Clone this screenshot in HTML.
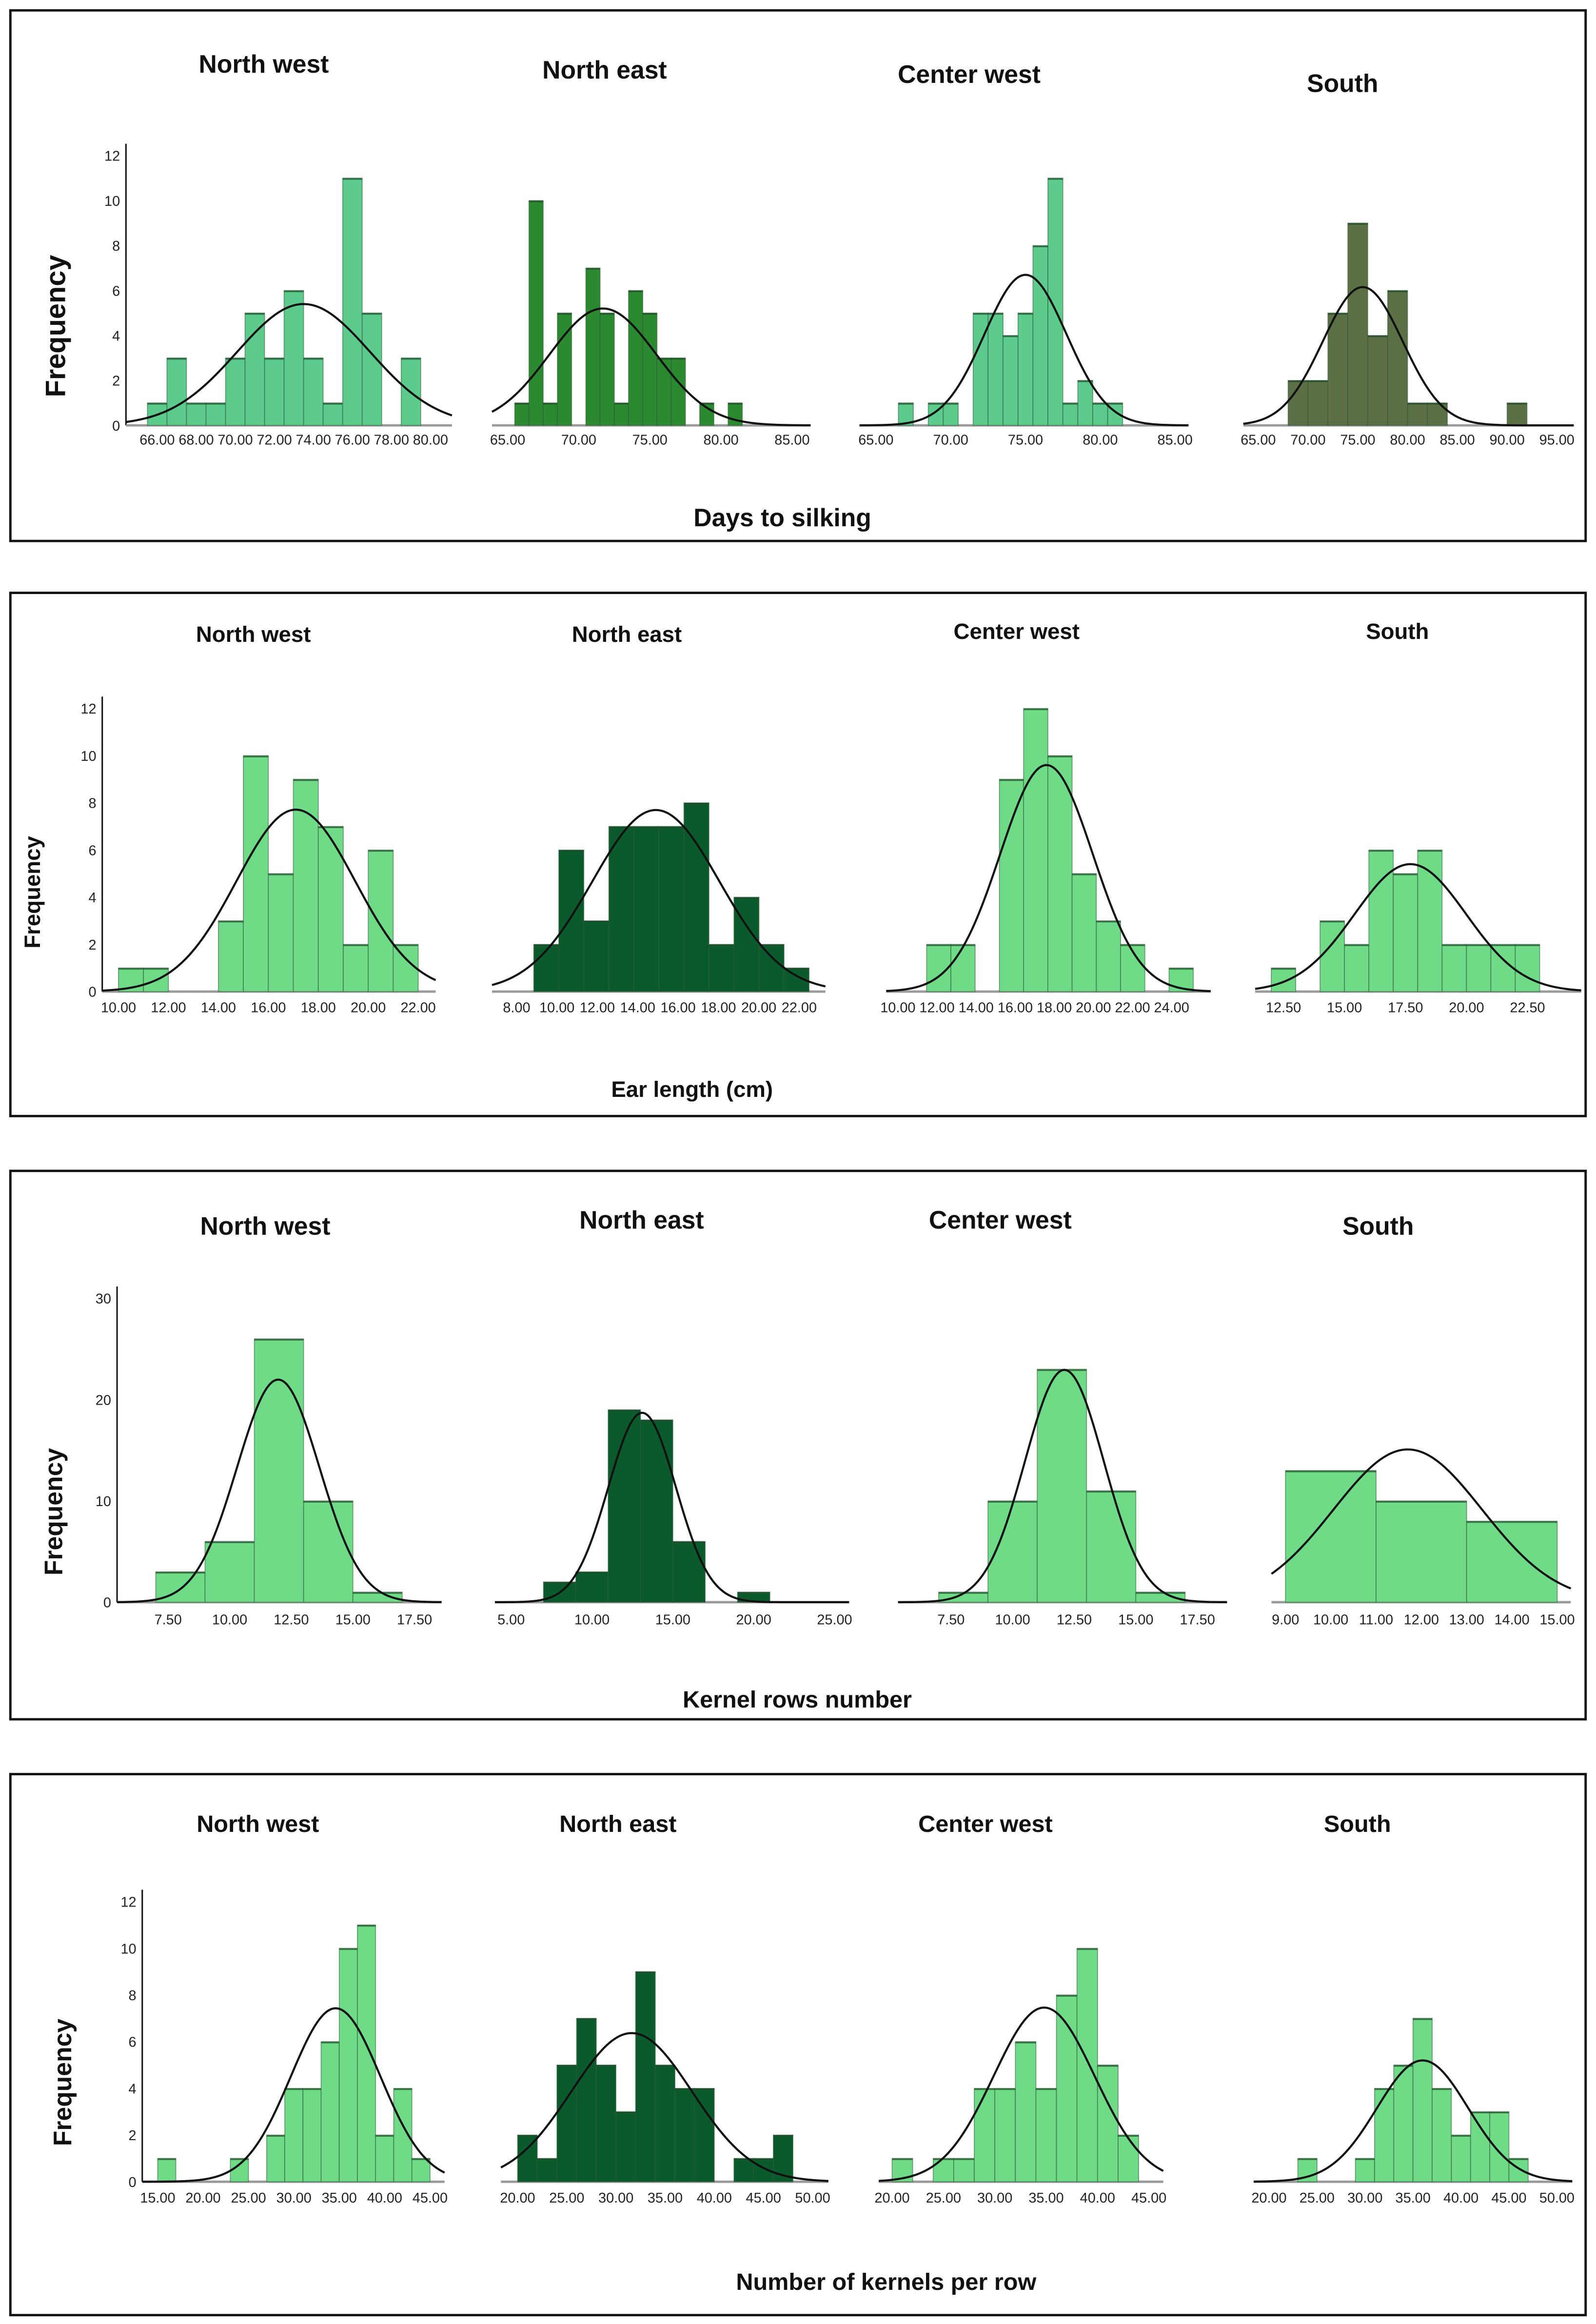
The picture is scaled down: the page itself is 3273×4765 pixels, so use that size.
<!DOCTYPE html>
<html><head><meta charset="utf-8">
<style>
html,body{margin:0;padding:0;background:#fff;}
svg{display:block;}
.t{font-family:"Liberation Sans",Arial,sans-serif;font-weight:bold;fill:#111;}
.tk{font-family:"Liberation Sans Narrow","Liberation Sans",sans-serif;fill:#222;font-size:9.5px;}
</style></head>
<body>
<svg id="fig" width="3273" height="4765" viewBox="0 0 1077 1568" preserveAspectRatio="none" xmlns="http://www.w3.org/2000/svg">
<rect x="0" y="0" width="1077" height="1568" fill="#fff"/>
<rect x="7" y="7" width="1063" height="358" fill="none" stroke="#111" stroke-width="1.6"/>
<rect x="7" y="400" width="1063" height="353" fill="none" stroke="#111" stroke-width="1.6"/>
<rect x="7" y="790" width="1063" height="370" fill="none" stroke="#111" stroke-width="1.6"/>
<rect x="7" y="1197" width="1063" height="365" fill="none" stroke="#111" stroke-width="1.6"/>

<text class="t" x="178" y="49" font-size="17" text-anchor="middle">North west</text>
<text class="t" x="408" y="53" font-size="17" text-anchor="middle">North east</text>
<text class="t" x="654" y="56" font-size="17" text-anchor="middle">Center west</text>
<text class="t" x="906" y="62" font-size="17" text-anchor="middle">South</text>
<text class="t" x="528" y="355" font-size="17" text-anchor="middle">Days to silking</text>
<text class="t" transform="translate(44,220) rotate(-90)" font-size="19" text-anchor="middle">Frequency</text>

<text class="t" x="171" y="433" font-size="15" text-anchor="middle">North west</text>
<text class="t" x="423" y="433" font-size="15" text-anchor="middle">North east</text>
<text class="t" x="686" y="431" font-size="15" text-anchor="middle">Center west</text>
<text class="t" x="943" y="431" font-size="15" text-anchor="middle">South</text>
<text class="t" x="467" y="740" font-size="15" text-anchor="middle">Ear length (cm)</text>
<text class="t" transform="translate(27,602) rotate(-90)" font-size="15" text-anchor="middle">Frequency</text>

<text class="t" x="179" y="833" font-size="17" text-anchor="middle">North west</text>
<text class="t" x="433" y="829" font-size="17" text-anchor="middle">North east</text>
<text class="t" x="675" y="829" font-size="17" text-anchor="middle">Center west</text>
<text class="t" x="930" y="833" font-size="17" text-anchor="middle">South</text>
<text class="t" x="538" y="1152" font-size="16" text-anchor="middle">Kernel rows number</text>
<text class="t" transform="translate(42,1020) rotate(-90)" font-size="17" text-anchor="middle">Frequency</text>

<text class="t" x="174" y="1236" font-size="16" text-anchor="middle">North west</text>
<text class="t" x="417" y="1236" font-size="16" text-anchor="middle">North east</text>
<text class="t" x="665" y="1236" font-size="16" text-anchor="middle">Center west</text>
<text class="t" x="916" y="1236" font-size="16" text-anchor="middle">South</text>
<text class="t" x="598" y="1545" font-size="16" text-anchor="middle">Number of kernels per row</text>
<text class="t" transform="translate(48,1405) rotate(-90)" font-size="17" text-anchor="middle">Frequency</text>
</svg>
<script>
// ---- Days to silking ----
const daysCounts = [
  [1,3,1,1,3,5,3,6,3,1,11,5,0,3],
  [1,10,1,5,0,7,5,1,6,5,3,3,0,1,0,1],
  [1,0,1,1,0,5,5,4,5,8,11,1,2,1,1],
  [2,2,5,9,4,6,1,1,0,0,0,1]
];
const daysBinStart = [65.5,65.5,66.5,68];
const daysBinWidth = [1,1,1,2];
const daysMean = [73.5,71.7,75.0,75.5];
const daysSD = [3.4,3.76,2.74,4.02];
const daysDomain = [[64.4,81.1],[63.9,86.3],[63.9,85.9],[63.5,96.7]];
const daysXTicks = [[66,68,70,72,74,76,78,80],[65,70,75,80,85],[65,70,75,80,85],[65,70,75,80,85,90,95]];
const daysYTicks = [0,2,4,6,8,10,12];

// ---- Ear length ----
const earCounts = [
  [1,1,0,0,3,10,5,9,7,2,6,2],
  [2,6,3,7,7,7,8,2,4,2,1],
  [2,2,0,9,12,10,5,3,2,0,1],
  [1,0,3,2,6,5,6,2,2,2,2]
];
const earBinStart = [10,8.85,11.47,12.0];
const earBinWidth = [1,1.24,1.24,1];
const earMean = [17.1,14.9,17.6,17.7];
const earSD = [2.38,3.15,2.37,2.29];
const earDomain = [[9.35,22.7],[6.78,23.3],[9.4,26],[11.34,24.7]];
const earXTicks = [[10,12,14,16,18,20,22],[8,10,12,14,16,18,20,22],[10,12,14,16,18,20,22,24],[12.5,15,17.5,20,22.5]];
const earYTicks = [0,2,4,6,8,10,12];

// ---- Kernel rows number ----
const krnCounts = [
  [3,6,26,10,1],
  [2,3,19,18,6,0,1],
  [1,10,23,11,1],
  [13,10,8]
];
const krnBinStart = [7,7,7,9];
const krnBinWidth = [2,2,2,2];
const krnMean = [11.97,13.1,12.1,11.7];
const krnSD = [1.67,2.09,1.6,1.64];
const krnDomain = [[5.43,18.6],[4,25.9],[5.35,18.7],[8.69,15.3]];
const krnXTicks = [[7.5,10,12.5,15,17.5],[5,10,15,20,25],[7.5,10,12.5,15,17.5],[9,10,11,12,13,14,15]];
const krnYTicks = [0,10,20,30];

// ---- Kernels per row ----
const kprCounts = [
  [1,0,0,0,1,0,2,4,4,6,10,11,2,4,1],
  [2,1,5,7,5,3,9,5,4,4,0,1,1,2],
  [1,0,1,1,4,4,6,4,8,10,5,2],
  [1,0,0,1,4,5,7,4,2,3,3,1]
];
const kprBinStart = [15,20,20,23];
const kprBinWidth = [2,2,2,2];
const kprMean = [34.6,31.6,34.8,36.0];
const kprSD = [4.94,6.14,4.92,4.76];
const kprDomain = [[13.3,46.6],[18.3,51.6],[18.7,46.4],[18.4,51.6]];
const kprXTicks = [[15,20,25,30,35,40,45],[20,25,30,35,40,45,50],[20,25,30,35,40,45],[20,25,30,35,40,45,50]];
const kprYTicks = [0,2,4,6,8,10,12];

const regionKeys = ["north-west","north-east","center-west","south"];

// layout (pixels, not data)
const layouts = [
  {key:"days", counts:daysCounts, start:daysBinStart, width:daysBinWidth, mean:daysMean, sd:daysSD, dom:daysDomain, xt:daysXTicks, yt:daysYTicks,
   yMax:12, base:287, top:105, axisX:85, tickY:300, xPix:[[85,305],[332,547],[580,802],[839,1062]],
   colors:["#5ccb8c","#2b8a2f","#5ccb8c","#5c6f45"]},
  {key:"ear", counts:earCounts, start:earBinStart, width:earBinWidth, mean:earMean, sd:earSD, dom:earDomain, xt:earXTicks, yt:earYTicks,
   yMax:12, base:669, top:478, axisX:69, tickY:683, xPix:[[69,294],[332,557],[598,817],[847,1067]],
   colors:["#6fdb86","#0b5a2c","#6fdb86","#6fdb86"]},
  {key:"krn", counts:krnCounts, start:krnBinStart, width:krnBinWidth, mean:krnMean, sd:krnSD, dom:krnDomain, xt:krnXTicks, yt:krnYTicks,
   yMax:30, base:1081, top:876, axisX:79, tickY:1096, xPix:[[79,298],[334,573],[606,828],[858,1060]],
   colors:["#6fdb86","#0b5a2c","#6fdb86","#6fdb86"]},
  {key:"kpr", counts:kprCounts, start:kprBinStart, width:kprBinWidth, mean:kprMean, sd:kprSD, dom:kprDomain, xt:kprXTicks, yt:kprYTicks,
   yMax:12, base:1472, top:1283, axisX:96, tickY:1486, xPix:[[96,300],[338,559],[593,785],[846,1061]],
   colors:["#6fdb86","#0b5a2c","#6fdb86","#6fdb86"]}
];

const NS = "http://www.w3.org/2000/svg";
const svg = document.getElementById("fig");
function mk(tag, attrs){ const e=document.createElementNS(NS,tag); for(const k in attrs) e.setAttribute(k,attrs[k]); return e; }

layouts.forEach(L => {
  const yScale = v => L.base - (v / L.yMax) * (L.base - L.top);
  // y axis
  const ya = mk("line",{x1:L.axisX,y1:L.base,x2:L.axisX,y2:L.top-8,stroke:"#111","stroke-width":1});
  
  
  svg.appendChild(ya);
  L.yt.forEach(v => {
    const t = mk("text",{x:L.axisX-4,y:yScale(v)+3.5,"text-anchor":"end",class:"tk"});
    t.textContent = v;
    
    
    svg.appendChild(t);
  });
  for (let r = 0; r < 4; r++) {
    const d0 = L.dom[r][0], d1 = L.dom[r][1];
    const p0 = L.xPix[r][0], p1 = L.xPix[r][1];
    const xScale = v => p0 + (v - d0) / (d1 - d0) * (p1 - p0);
    const g = mk("g",{});
    
    
    svg.appendChild(g);
    // baseline
    const bl = mk("line",{x1:p0,y1:L.base,x2:p1,y2:L.base,stroke:"#9a9a9a","stroke-width":1.6});
    
    
    g.appendChild(bl);
    // bars
    const counts = L.counts[r];
    let N = 0;
    counts.forEach((c, i) => {
      N += c;
      if (c <= 0) return;
      const a = L.start[r] + i * L.width[r], b = a + L.width[r];
      const x = xScale(a), w = xScale(b) - xScale(a), y = yScale(c);
      const bar = mk("rect",{x:x,y:y,width:w,height:L.base-y,fill:L.colors[r],stroke:"#2d5a38","stroke-opacity":0.55,"stroke-width":0.6});
      
      
      g.appendChild(bar);
      const top = mk("line",{x1:x,y1:y+0.6,x2:x+w,y2:y+0.6,stroke:"#1f4a2a","stroke-opacity":0.7,"stroke-width":1.1});
      
      
      g.appendChild(top);
    });
    // normal curve
    const mu = L.mean[r], sd = L.sd[r];
    const peak = N * L.width[r] / (sd * Math.sqrt(2 * Math.PI));
    let dstr = "";
    const steps = 160;
    for (let k = 0; k <= steps; k++) {
      const v = d0 + (d1 - d0) * k / steps;
      const f = peak * Math.exp(-0.5 * Math.pow((v - mu) / sd, 2));
      dstr += (k ? "L" : "M") + xScale(v).toFixed(2) + "," + yScale(f).toFixed(2);
    }
    const cv = mk("path",{d:dstr,fill:"none",stroke:"#111","stroke-width":1.4});
    
    
    g.appendChild(cv);
    // x ticks
    L.xt[r].forEach(v => {
      const t = mk("text",{x:xScale(v),y:L.tickY,"text-anchor":"middle",class:"tk"});
      t.textContent = v.toFixed(2);
      
      
      g.appendChild(t);
    });
  }
});
</script>
</body></html>
